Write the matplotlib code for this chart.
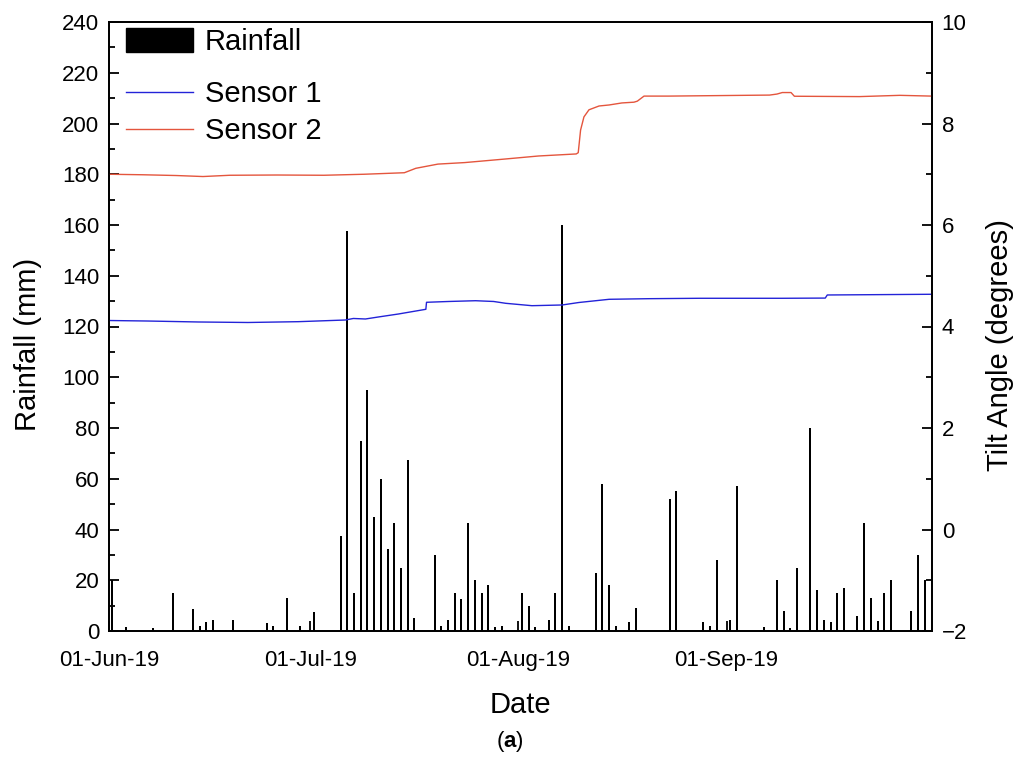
import matplotlib
matplotlib.use("Agg")
import matplotlib.pyplot as plt
import matplotlib.dates as mdates
from matplotlib.patches import Patch
from matplotlib.lines import Line2D
from matplotlib.ticker import MultipleLocator
import pandas as pd

plt.rcParams["font.family"] = ["Liberation Sans", "DejaVu Sans"]
plt.rcParams["mathtext.fontset"] = "custom"
plt.rcParams["mathtext.bf"] = "Liberation Sans:bold"

START = pd.Timestamp("2019-06-01")

# daily rainfall (mm)
rain_dates = [
    "2019-06-01", "2019-06-03", "2019-06-07", "2019-06-10", "2019-06-13", "2019-06-14",
    "2019-06-15", "2019-06-16", "2019-06-18", "2019-06-19", "2019-06-21", "2019-06-24",
    "2019-06-25", "2019-06-27", "2019-06-29", "2019-07-01", "2019-07-05", "2019-07-06",
    "2019-07-07", "2019-07-08", "2019-07-09", "2019-07-10", "2019-07-11", "2019-07-12",
    "2019-07-13", "2019-07-14", "2019-07-15", "2019-07-16", "2019-07-19", "2019-07-20",
    "2019-07-21", "2019-07-22", "2019-07-23", "2019-07-24", "2019-07-25", "2019-07-26",
    "2019-07-27", "2019-07-28", "2019-07-29", "2019-08-01", "2019-08-02", "2019-08-03",
    "2019-08-05", "2019-08-06", "2019-08-07", "2019-08-08", "2019-08-12", "2019-08-13",
    "2019-08-14", "2019-08-15", "2019-08-17", "2019-08-18", "2019-08-23", "2019-08-24",
    "2019-08-28", "2019-08-29", "2019-08-30", "2019-09-01", "2019-09-02", "2019-09-06",
    "2019-09-08", "2019-09-09", "2019-09-10", "2019-09-11", "2019-09-13", "2019-09-14",
    "2019-09-15", "2019-09-16", "2019-09-17", "2019-09-18", "2019-09-20", "2019-09-21",
    "2019-09-22", "2019-09-23", "2019-09-24", "2019-09-25", "2019-09-28", "2019-09-29",
    "2019-09-30",
]
rain_mm = [
    20, 1.5, 1, 15, 8.5, 2,
    3.5, 4.5, 0.5, 4.5, 0.5, 3,
    2, 13, 2, 7.5, 37.5, 157.5,
    15, 75, 95, 45, 60, 32.5,
    42.5, 25, 67.5, 5, 30, 2,
    4.5, 15, 12.5, 42.5, 20, 15,
    18, 1.5, 2, 15, 10, 1.5,
    4.5, 15, 160, 2, 23, 58,
    18, 2, 3.5, 9, 52, 55,
    3.5, 2, 28, 4.5, 57, 1.5,
    20, 8, 1, 25, 80, 16,
    4.5, 3.5, 15, 17, 6, 42.5,
    13, 4, 15, 20, 8, 30,
    20,
]

# tilt angle (degrees), day counted from 01-Jun-19
s1_day = [0, 5.8, 13.3, 20.7, 28.2, 35.2, 36.4, 38.2, 40.1, 43.1, 47.2, 47.3,
          50.6, 54.6, 57.3, 59.1, 63, 67.5, 70, 74.5, 80.4, 87.9, 100.3, 106.7,
          107, 122.5]
s1_tilt = [4.118, 4.108, 4.089, 4.079, 4.095, 4.128, 4.158, 4.148, 4.187, 4.246, 4.339, 4.477,
           4.493, 4.508, 4.493, 4.457, 4.41, 4.424, 4.473, 4.536, 4.548, 4.556, 4.556, 4.56,
           4.621, 4.635]

s2_day = [0, 5, 10, 14, 18, 25, 32, 38, 44, 45.7, 49, 53, 59, 64, 69.6, 69.9,
          70.25, 70.75, 71.5, 73, 74.5, 76.4, 78.2, 78.7, 79.7, 83.4, 98.4, 99.5,
          100.3, 101.6, 102.1, 111.8, 117.8, 122.5]
s2_tilt = [7.0, 6.99, 6.975, 6.955, 6.98, 6.985, 6.98, 7.0, 7.03, 7.117, 7.2, 7.23, 7.3, 7.36, 7.4, 7.425,
           7.87, 8.13, 8.27, 8.345, 8.365, 8.405, 8.42, 8.44, 8.54, 8.54, 8.56, 8.58,
           8.61, 8.61, 8.537, 8.53, 8.555, 8.54]

rain_x = pd.to_datetime(rain_dates) + pd.Timedelta(hours=12)
s1_x = START + pd.to_timedelta(s1_day, unit="D")
s2_x = START + pd.to_timedelta(s2_day, unit="D")

fig = plt.figure(figsize=(10.19, 7.63), dpi=100)
ax = fig.add_axes([109 / 1019, 1 - 631 / 763, 823 / 1019, 609 / 763])
ax2 = ax.twinx()

# rainfall drawn as thin bars
ax.vlines(rain_x, 0, rain_mm, color="black", linewidth=1.4,
          antialiased=False, zorder=2)
c1 = "#2323d8"
c2 = "#e4553d"
ax2.plot(s1_x, s1_tilt, color=c1, lw=1.0)
ax2.plot(s2_x, s2_tilt, color=c2, lw=1.0)

ax.set_xlim(START, START + pd.Timedelta(days=122.6))
ax.set_ylim(0, 240)
ax2.set_ylim(-2, 10)
ax.yaxis.set_major_locator(MultipleLocator(20))
ax.yaxis.set_minor_locator(MultipleLocator(10))
ax2.yaxis.set_major_locator(MultipleLocator(2))
ax2.yaxis.set_minor_locator(MultipleLocator(1))
ax.xaxis.set_major_locator(mdates.MonthLocator(bymonth=[6, 7, 8, 9]))
ax.xaxis.set_major_formatter(mdates.DateFormatter("%d-%b-%y"))

for a in (ax, ax2):
    for sp in a.spines.values():
        sp.set_linewidth(1.3)
ax.tick_params(axis="both", which="major", direction="in", length=7, width=1.3,
               labelsize=16)
ax.tick_params(axis="y", which="minor", direction="in", length=4, width=1.3)
ax.tick_params(axis="x", pad=14)
ax.tick_params(axis="y", pad=7)
ax2.tick_params(axis="y", which="major", direction="in", length=7, width=1.3,
                labelsize=16, pad=7)
ax2.tick_params(axis="y", which="minor", direction="in", length=4, width=1.3)

ax.set_xlabel("Date", fontsize=21, labelpad=14)
ax.set_ylabel("Rainfall (mm)", fontsize=21)
ax2.set_ylabel("Tilt Angle (degrees)", fontsize=21)
ax.yaxis.set_label_coords(-0.081, 0.47)
ax2.yaxis.set_label_coords(1.066, 0.47)

leg1 = ax2.legend([Patch(facecolor="black", edgecolor="black")], ["Rainfall"],
                  loc="upper left", bbox_to_anchor=(0.021, 0.99), frameon=False,
                  fontsize=21, handlelength=2.3, handleheight=0.85,
                  handletextpad=0.4, borderpad=0, borderaxespad=0)
ax2.add_artist(leg1)
ax2.legend([Line2D([], [], color=c1, lw=1.0), Line2D([], [], color=c2, lw=1.0)],
           ["Sensor 1", "Sensor 2"], loc="upper left", bbox_to_anchor=(0.021, 0.905),
           frameon=False, fontsize=21, handlelength=2.3, handletextpad=0.4,
           labelspacing=0.33, borderpad=0, borderaxespad=0)

fig.text(0.5, 1 - 741 / 763, r"($\mathbf{a}$)", ha="center", va="center", fontsize=16)

fig.savefig("out.png", dpi=100)
